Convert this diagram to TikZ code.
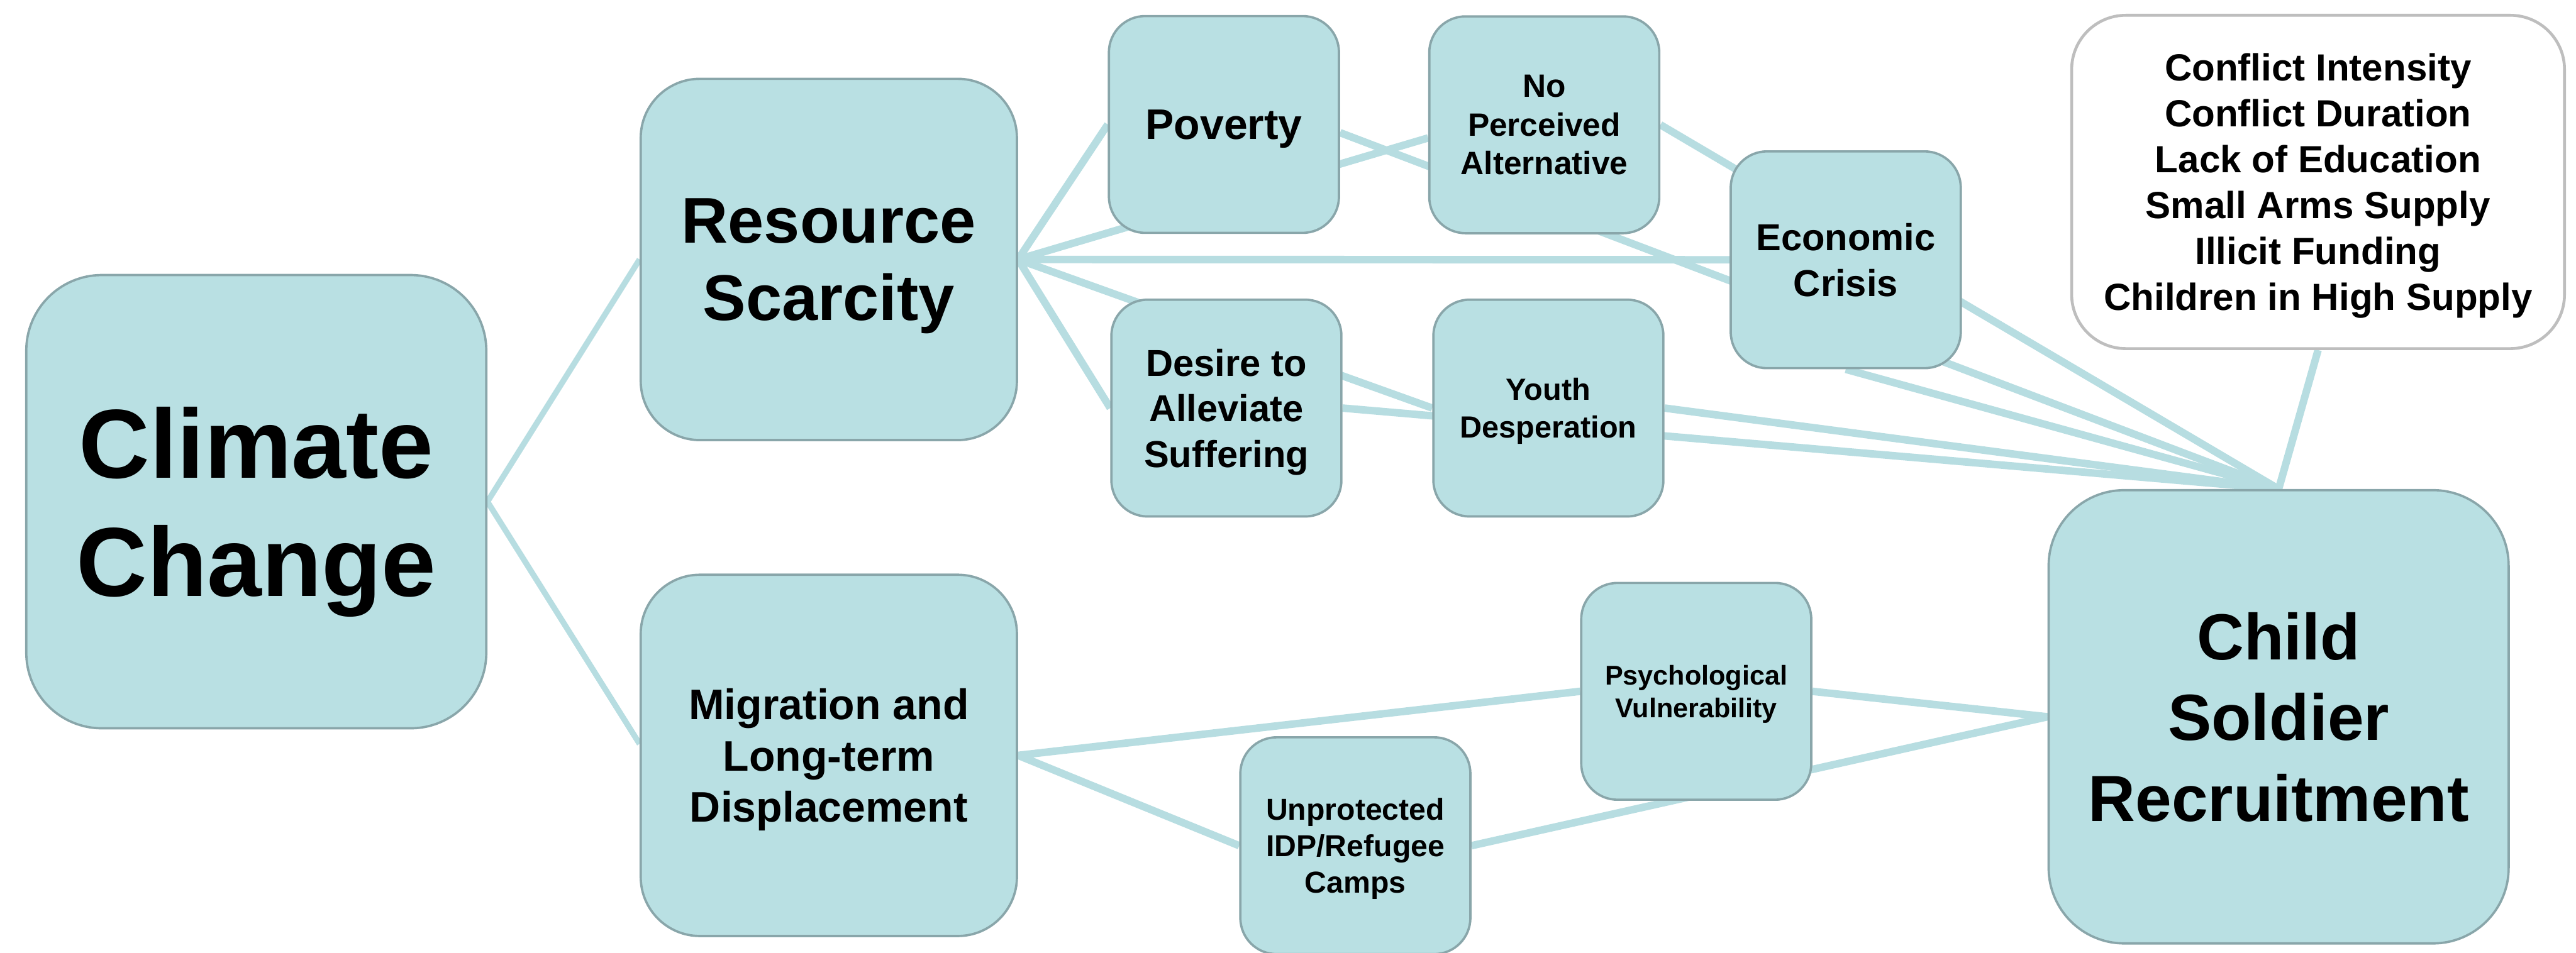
\documentclass[tikz,border=0pt]{standalone}
\usepackage{fontspec}
\setmainfont{Liberation Sans}
\usetikzlibrary{backgrounds,calc}

\definecolor{boxfill}{RGB}{185,224,227}
\definecolor{boxline}{RGB}{137,166,170}
\definecolor{linkcol}{RGB}{183,221,225}
\definecolor{listline}{RGB}{190,190,190}
\newcommand{\boxfont}[2]{\fontsize{#1}{#2}\selectfont\bfseries}

\begin{document}
\begin{tikzpicture}[x=0.1mm,y=-0.1mm,
  factor/.style={draw=boxline, line width=0.4pt, fill=boxfill, rectangle,
                 inner sep=0pt, align=center, text=black, text depth=0pt},
  bigbox/.style={factor, minimum width=28mm, minimum height=27.6mm, rounded corners=4.6mm},
  midbox/.style={factor, minimum width=22.9mm, minimum height=22mm, rounded corners=3.6mm},
  smallbox/.style={factor, minimum width=14mm, minimum height=13.2mm, rounded corners=2.2mm},
  listbox/.style={draw=listline, line width=0.5pt, fill=white, rectangle, inner sep=0pt,
                  align=center, text depth=0pt, minimum width=30mm, minimum height=20.3mm,
                  rounded corners=3.3mm},
  link/.style={draw=linkcol, line width=1.3pt},
  thinlink/.style={draw=linkcol, line width=1pt}]

\useasboundingbox (0,0) rectangle (1568,580);

% main causes
\node[bigbox, font={\boxfont{17}{20.5}}] (cc) at (156,305.5) {Climate\\Change};
\node[midbox, font={\boxfont{11.2}{13.4}}] (rs) at (504.5,158) {Resource\\Scarcity};
\node[midbox, font={\boxfont{7.4}{8.9}}] (mig) at (504.5,460) {Migration and\\Long-term\\Displacement};

% intermediate factors
\node[smallbox, font={\boxfont{7.4}{8.9}}] (pov) at (745,75.8) {Poverty};
\node[smallbox, font={\boxfont{5.6}{6.7}}] (npa) at (940,76) {No\\Perceived\\Alternative};
\node[smallbox, font={\boxfont{6.5}{7.9}}] (ec) at (1123.5,158.2) {Economic\\Crisis};
\node[smallbox, font={\boxfont{6.5}{7.9}}] (des) at (746.5,248.5) {Desire to\\Alleviate\\Suffering};
\node[smallbox, font={\boxfont{5.3}{6.5}}] (yd) at (942.5,248.5) {Youth\\Desperation};
\node[smallbox, font={\boxfont{4.7}{5.6}}] (psy) at (1032.5,421) {Psychological\\Vulnerability};
\node[smallbox, font={\boxfont{5.25}{6.3}}] (unp) at (825,515) {Unprotected\\IDP/Refugee\\Camps};

% outcome and contextual factors
\node[bigbox, font={\boxfont{11.3}{14}}] (cs) at (1387,436.5) {Child\\Soldier\\Recruitment};
\node[listbox, font={\boxfont{6.55}{7.94}}] (ctx) at (1411,110.8)
  {Conflict Intensity\\Conflict Duration\\Lack of Education\\Small Arms Supply\\Illicit Funding\\Children in High Supply};

\begin{pgfonlayer}{background}
  \fill[white] (0,0) rectangle (1568,580);
  % climate change branches
  \draw[thinlink] (cc.east) -- (rs.west);
  \draw[thinlink] (cc.east) -- ($(mig.west)+(0,-7)$);
  % resource scarcity fan
  \draw[link] (rs.east) -- (pov.west);
  \draw[link] (rs.east) -- ($(npa.west)+(0,8)$);
  \draw[link] (rs.east) -- (ec.west);
  \draw[link] (rs.east) -- (yd.west);
  \draw[link] (rs.east) -- (des.west);
  % links into recruitment
  \draw[link] ($(pov.east)+(0,5)$) -- (cs.north);
  \draw[link] (npa.east) -- (cs.north);
  \draw[link] (ec.south) -- (cs.north);
  \draw[link] (des.east) -- (cs.north);
  \draw[link] (yd.east) -- (cs.north);
  \draw[link] (ctx.south) -- (cs.north);
  % displacement branch
  \draw[link] (mig.east) -- (psy.west);
  \draw[link] (mig.east) -- (unp.west);
  \draw[link] (unp.east) -- (cs.west);
  \draw[link] (psy.east) -- (cs.west);
\end{pgfonlayer}
\end{tikzpicture}
\end{document}
